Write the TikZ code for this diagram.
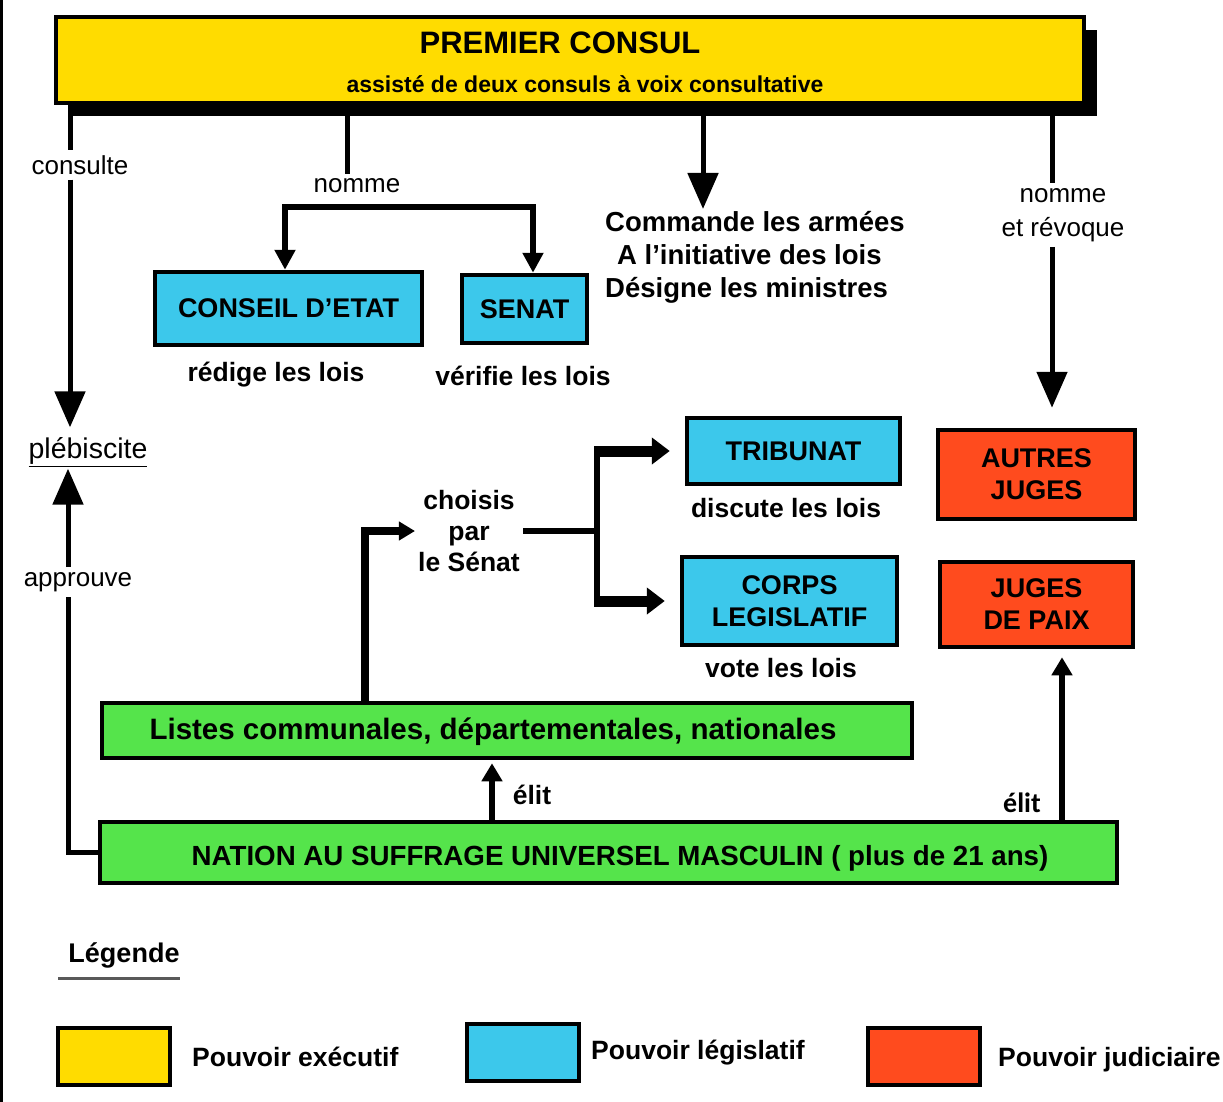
\documentclass[tikz,border=0pt]{standalone}
\usepackage{fontspec}
\setmainfont{Liberation Sans}
\newfontfamily\calfont{Carlito}
\usetikzlibrary{arrows.meta}
\definecolor{cyel}{RGB}{255,220,0}
\definecolor{ccyan}{RGB}{60,200,235}
\definecolor{cred}{RGB}{255,75,30}
\definecolor{cgreen}{RGB}{85,228,75}
\begin{document}
\begin{tikzpicture}[x=1pt,y=-1pt,
  box/.style={draw=black, line width=4.5pt, inner sep=0pt, align=center,
    font=\bfseries\fontsize{27}{32}\selectfont},
  lab/.style={font=\fontsize{26}{34}\selectfont, inner sep=5pt, align=center},
  blab/.style={font=\bfseries\fontsize{26.5}{31}\selectfont, inner sep=3pt, align=center},
  plain/.style={line width=5pt},
  bigarrow/.style={line width=5pt, -{Triangle[width=30pt,length=36pt]}},
  midarrow/.style={line width=6pt, -{Triangle[width=20pt,length=18pt]}},
  fatarrow/.style={line width=11pt, -{Triangle[width=26pt,length=18pt]}, shorten >=15pt}
]
\useasboundingbox (0,0) rectangle (1223,1102);
\draw[line width=3pt] (1.5,0) -- (1.5,1102);

% Premier consul
\fill[black] (70,30) rectangle (1097,116);
\node[box, fill=cyel, minimum width=1028pt, minimum height=86pt] (pc) at (570,60) {};
\node[font=\bfseries\fontsize{31}{34}\selectfont] (pct) at (560,43) {PREMIER CONSUL};
\node[font=\bfseries\fontsize{23}{26}\selectfont] (pcs) at (585,84) {assisté de deux consuls à voix consultative};

% legislative boxes
\node[box, fill=ccyan, minimum width=267pt, minimum height=73pt] (ce) at (288.5,308.5) {CONSEIL D'ETAT};
\node[box, fill=ccyan, minimum width=125pt, minimum height=68pt] (se) at (524.5,309) {SENAT};
\node[blab] (ceL) at (276,375) {rédige les lois};
\node[blab] (seL) at (523,376) {vérifie les lois};

\node[box, fill=ccyan, minimum width=213pt, minimum height=66pt] (tr) at (793.5,451) {TRIBUNAT};
\node[box, fill=ccyan, minimum width=215pt, minimum height=88pt] (co) at (789.5,601) {CORPS\\LEGISLATIF};
\node[blab] (trL) at (786,508) {discute les lois};
\node[blab] (coL) at (781,668) {vote les lois};

% judicial boxes
\node[box, fill=cred, minimum width=197pt, minimum height=89pt] (aj) at (1036.5,474.5) {AUTRES\\JUGES};
\node[box, fill=cred, minimum width=193pt, minimum height=85pt] (jp) at (1036.5,604.5) {JUGES\\DE PAIX};

% green boxes
\node[box, fill=cgreen, minimum width=810pt, minimum height=55pt] (li) at (507,730.5) {};
\node[font=\bfseries\fontsize{29.5}{31}\selectfont] (lit) at (493,732) {Listes communales, départementales, nationales};
\node[box, fill=cgreen, minimum width=1017pt, minimum height=61pt] (na) at (608.5,852.5) {};
\node[font=\bfseries\fontsize{27.7}{30}\selectfont] (nat) at (620,858) {NATION AU SUFFRAGE UNIVERSEL MASCULIN ( plus de 21 ans)};

% consulte / plebiscite / approuve
\coordinate (xa) at (70,0);
\coordinate (xb) at (68,0);
\node[lab] (cons) at (80,165) {consulte};
\node[lab, inner sep=2pt, font=\fontsize{28.5}{34}\selectfont] (pleb) at (88,452) {\underline{plébiscite}};
\node[lab] (appr) at (78,582) {approuve};
\draw[plain] (pc.south -| xa) -- (cons.north -| xa);
\draw[bigarrow, shorten >=8pt] (cons.south -| xa) -- (pleb.north -| xa);
\draw[plain] (na.west) -- (na.west -| xb) -- (appr.south -| xb);
\draw[bigarrow] (appr.north -| xb) -- (pleb.south -| xb);

% nomme (conseil, senat)
\coordinate (xn) at (347,0);
\node[lab] (nom1) at (357,186) {nomme};
\draw[plain] (pc.south -| xn) -- (nom1.north -| xn);
\coordinate (bl) at (285,207);
\coordinate (br) at (533,207);
\draw[line width=6pt, {Triangle[width=20pt,length=20pt]}-{Triangle[width=20pt,length=20pt]}]
  (bl |- ce.north) -- (bl) -- (br) -- (br |- se.north);

% commande
\coordinate (xc) at (703,0);
\node[font=\bfseries\fontsize{27.5}{33}\selectfont, align=left, anchor=north west, inner sep=2pt] (cmd) at (603,209)
  {Commande les armées\\\hspace*{12pt}A l'initiative des lois\\Désigne les ministres};
\draw[bigarrow] (pc.south -| xc) -- (cmd.north -| xc);

% nomme et revoque
\coordinate (xd) at (1052,0);
\node[lab] (nr) at (1063,215) {nomme\\et révoque};
\draw[plain] (pc.south -| xd) -- (nr.north -| xd);
\draw[bigarrow, shorten >=20pt] (nr.south -| xd) -- (aj.north -| xd);

% choisis par le senat
\coordinate (xe) at (365,0);
\node[blab] (ch) at (469,531) {choisis\\par\\le Sénat};
\draw[line width=8pt, -{Triangle[width=18pt,length=16pt]}] (li.north -| xe) |- (ch.west);
\coordinate (fk) at (597,531);
\coordinate (ft) at (fk |- tr.west);
\coordinate (fb) at (fk |- co.west);
\draw[line width=6pt] (ch.east) -- (fk);
\draw[line width=6pt, line cap=rect] (ft) -- (fb);
\draw[fatarrow] ([xshift=-3pt]ft) -- (tr.west);
\draw[fatarrow] ([xshift=-3pt]fb) -- (co.west);

% elit
\coordinate (xf) at (492,0);
\draw[midarrow, shorten >=3pt] (na.north -| xf) -- (li.south -| xf);
\node[blab] (el1) at (532,795) {élit};
\coordinate (xg) at (1062,0);
\draw[midarrow, shorten >=8pt] (na.north -| xg) -- (jp.south -| xg);
\node[font=\calfont\bfseries\fontsize{28}{30}\selectfont] (el2) at (1022,803) {élit};

% legend
\node[font=\bfseries\fontsize{27}{30}\selectfont] (leg) at (124,955) {Légende};
\draw[gray!70!black, line width=3pt] (58,978) -- (180,978);
\node[box, fill=cyel, minimum width=112pt, minimum height=57pt] (lg1) at (114,1056.5) {};
\node[font=\bfseries\fontsize{26.5}{30}\selectfont, anchor=west, inner sep=0pt] (lt1) at (192,1057) {Pouvoir exécutif};
\node[box, fill=ccyan, minimum width=112pt, minimum height=57pt] (lg2) at (523,1052.5) {};
\node[font=\bfseries\fontsize{26.5}{30}\selectfont, anchor=west, inner sep=0pt] (lt2) at (591,1053) {Pouvoir législatif};
\node[box, fill=cred, minimum width=112pt, minimum height=57pt] (lg3) at (924,1056.5) {};
\node[font=\bfseries\fontsize{26.5}{30}\selectfont, anchor=west, inner sep=0pt] (lt3) at (998,1060) {Pouvoir judiciaire};
\end{tikzpicture}
\end{document}
